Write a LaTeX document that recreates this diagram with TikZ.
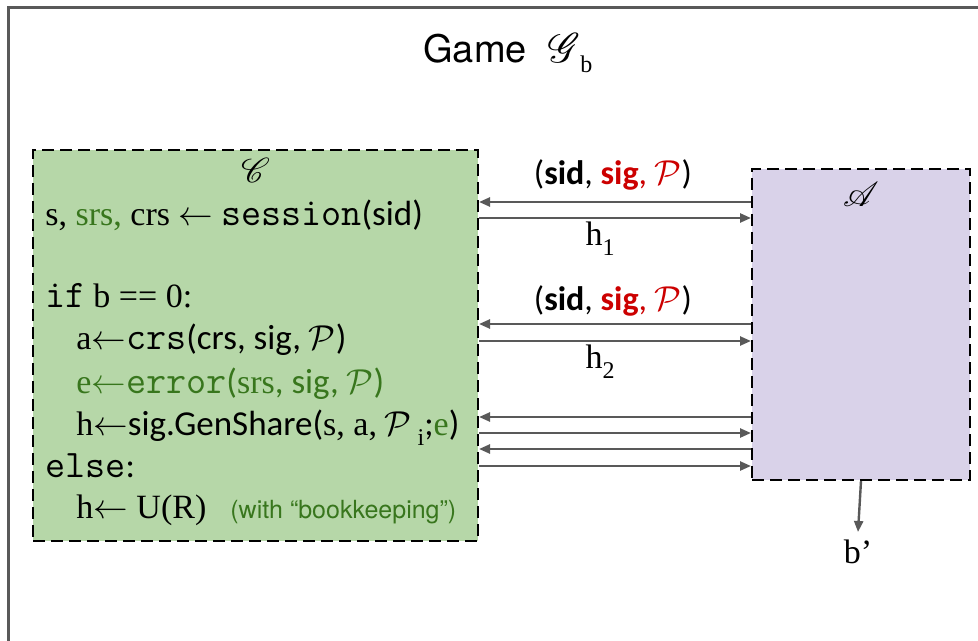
\documentclass[tikz,border=0pt]{standalone}
\usepackage{fontspec}
\usepackage{amsmath}
\usepackage{mathrsfs}
\setmainfont{Carlito}
\newfontfamily\srffont{Liberation Serif}
\newfontfamily\helvfont{TeX Gyre Heros}
\usetikzlibrary{arrows.meta, positioning}

\definecolor{chalfill}{HTML}{B6D7A8}
\definecolor{advfill}{HTML}{D9D2E9}
\definecolor{darkgreen}{HTML}{38761D}
\definecolor{darkred}{HTML}{CC0000}
\definecolor{wiregray}{HTML}{595959}

% serif and typewriter pieces of the pseudo-code
\newcommand{\srf}[1]{{\srffont\fontsize{17}{20}\selectfont #1}}
\newcommand{\mnc}[1]{{\ttfamily\fontsize{19.5}{20}\selectfont #1}}
\newcommand{\grn}[1]{\textcolor{darkgreen}{#1}}
% low-set serif index, as after h or P
\newcommand{\idx}[1]{\raisebox{-5pt}{\srffont\fontsize{12}{14}\selectfont #1}}
\newcommand{\query}{(\textbf{sid}, \textcolor{darkred}{\textbf{sig}, $\mathcal{P}$})}

\begin{document}
\begin{tikzpicture}[x=0.5pt, y=-0.5pt,
    box/.style={draw=black, line width=1pt, dash pattern=on 6pt off 3pt,
      anchor=north west, inner sep=0pt},
    party/.style={inner sep=0pt, font=\fontsize{18}{20}\selectfont},
    code/.style={anchor=base west, inner sep=0pt, font=\fontsize{17.5}{20}\selectfont},
    lbl/.style={anchor=base, inner sep=0pt, font=\fontsize{17}{20}\selectfont},
    wire/.style={draw=wiregray, line width=1.2pt, -{Triangle[length=5.5pt, width=4.5pt]}}]
  \useasboundingbox (0,0) rectangle (978,641);

  % frame of the game
  \draw[wiregray, line width=1.5pt] (8,641) -- (8,8) -- (978,8);
  \node[anchor=base west, inner sep=0pt, font=\helvfont\fontsize{19}{22}\selectfont]
    (title) at (423,63) {Game\; {\fontsize{20}{22}\selectfont$\mathscr{G}$}\idx{b}};

  % challenger and adversary
  \node[box, fill=chalfill, minimum width=222.5pt, minimum height=195.5pt] (chal) at (32,149) {};
  \node[box, fill=advfill, minimum width=109pt, minimum height=155.5pt] (adv) at (751,168) {};
  \node[party, below=4.5pt of chal.north] (chalname) {$\mathscr{C}$};
  \node[party, below=7pt of adv.north] (advname) {$\mathscr{A}$};

  % code of the challenger
  \node[code] (l1) at (45,226) {\srf{s, \grn{srs,} crs $\leftarrow$} \mnc{session}(sid)};
  \node[code] (l2) at (45,307) {\mnc{if} \srf{b == 0:}};
  \node[code] (l3) at (76,350) {\srf{a$\leftarrow$}\mnc{crs}(crs, sig, $\mathcal{P}$)};
  \node[code, text=darkgreen] (l4) at (76,393) {\srf{e$\leftarrow$}\mnc{error}(\srf{srs}, sig, $\mathcal{P}$)};
  \node[code] (l5) at (76,435) {\srf{h$\leftarrow$}sig.GenShare(\srf{s, a,} $\mathcal{P}$\,\idx{i};\grn{\srf{e}})};
  \node[code] (l6) at (45,477) {\mnc{else}:};
  \node[code] (l7) at (76,518) {\srf{h$\leftarrow$ U(R)}};
  \node[code, text=darkgreen, font=\helvfont\fontsize{12.5}{14}\selectfont] (l7note) at (230,518)
    {(with “bookkeeping”)};

  % messages
  \foreach \ya/\yb in {202/218, 324/341, 417/433, 449/466} {
    \draw[wire] (adv.west |- 0,\ya) -- (chal.east |- 0,\ya);
    \draw[wire] (chal.east |- 0,\yb) -- (adv.west |- 0,\yb);
  }
  \node[lbl] (q1) at (613,185) {\query};
  \node[lbl] (r1) at (600,246) {\srf{h}\idx{1}};
  \node[lbl] (q2) at (613,310) {\query};
  \node[lbl] (r2) at (600,368) {\srf{h}\idx{2}};

  % output bit
  \node[anchor=north, inner sep=0pt] (bout) at (858,540) {\srf{b’}};
  \draw[wire] (adv.south) -- ([yshift=4pt]bout.north);
\end{tikzpicture}
\end{document}
